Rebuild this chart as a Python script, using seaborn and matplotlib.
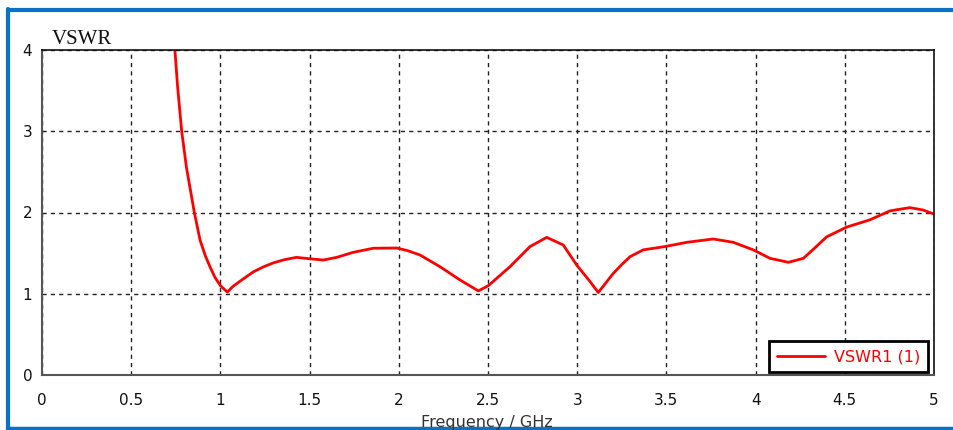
import matplotlib
matplotlib.use("Agg")
import matplotlib.pyplot as plt
from matplotlib.lines import Line2D
import pandas as pd
import seaborn as sns

# --- Data (frequency in GHz, VSWR) ---
FREQ_GHZ = [0.745, 0.76, 0.783, 0.81, 0.854, 0.886, 0.915, 0.942, 0.97, 1.0, 1.039,
            1.07, 1.12, 1.185, 1.24, 1.297, 1.36, 1.427, 1.502, 1.577, 1.652,
            1.745, 1.857, 1.988, 2.05, 2.119, 2.231, 2.343, 2.446, 2.502, 2.623,
            2.735, 2.829, 2.922, 2.997, 3.072, 3.118, 3.202, 3.25, 3.296, 3.37,
            3.49, 3.614, 3.763, 3.875, 3.987, 4.081, 4.184, 4.268, 4.33, 4.398,
            4.51, 4.641, 4.753, 4.865, 4.94, 5.0]
VSWR = [4.0, 3.55, 3.0, 2.55, 2.0, 1.66, 1.47, 1.33, 1.2, 1.1, 1.02,
        1.09, 1.17, 1.27, 1.33, 1.38, 1.42, 1.448, 1.43, 1.415, 1.448,
        1.51, 1.56, 1.563, 1.53, 1.477, 1.333, 1.17, 1.035, 1.10, 1.333,
        1.58, 1.694, 1.60, 1.354, 1.15, 1.015, 1.25, 1.36, 1.456, 1.54,
        1.58, 1.633, 1.674, 1.633, 1.54, 1.436, 1.387, 1.436, 1.56, 1.70,
        1.82, 1.91, 2.02, 2.06, 2.03, 1.98]
X_TICKS = [0, 0.5, 1, 1.5, 2, 2.5, 3, 3.5, 4, 4.5, 5]
X_TICK_LABELS = ["0", "0.5", "1", "1.5", "2", "2.5", "3", "3.5", "4", "4.5", "5"]
Y_TICKS = [0, 1, 2, 3, 4]
SERIES_NAME = "VSWR1 (1)"

LINE_RED = "#ff0000"
BORDER_BLUE = "#0a72c6"

sns.set_style("white")
plt.rcParams["font.family"] = ["DejaVu Sans"]

df = pd.DataFrame({"freq": FREQ_GHZ, "vswr": VSWR})

fig = plt.figure(figsize=(9.54, 4.30), dpi=100)
ax = fig.add_axes([42 / 954, 55 / 430, 892 / 954, 325 / 430])

sns.lineplot(data=df, x="freq", y="vswr", color=LINE_RED, linewidth=2,
             label=SERIES_NAME, ax=ax)

ax.set_xlim(0, 5)
ax.set_ylim(0, 4)
ax.set_xticks(X_TICKS)
ax.set_xticklabels(X_TICK_LABELS)
ax.set_yticks(Y_TICKS)
ax.set_xlabel("")
ax.set_ylabel("")
ax.tick_params(axis="both", direction="inout", length=6, width=1,
               color="#333333", labelsize=11, labelcolor="#111111")
ax.tick_params(axis="x", pad=10)
ax.tick_params(axis="y", pad=4)

# dashed black grid
ax.grid(True, color="#222222", linestyle=(0, (3, 3)), linewidth=1)
ax.set_axisbelow(True)

for side in ["left", "bottom"]:
    ax.spines[side].set_color("#555555")
    ax.spines[side].set_linewidth(1.5)
for side in ["top", "right"]:
    ax.spines[side].set_color("#111111")
    ax.spines[side].set_linewidth(1.2)
    ax.spines[side].set_visible(True)

leg = ax.legend(loc="lower right", bbox_to_anchor=(0.9935, 0.008), frameon=True,
                fancybox=False, fontsize=11.5, handlelength=3.0,
                borderpad=0.5, handletextpad=0.55, borderaxespad=0.0)
leg.get_frame().set_edgecolor("black")
leg.get_frame().set_linewidth(2)
leg.get_frame().set_facecolor("white")
leg.get_frame().set_alpha(1)
for txt in leg.get_texts():
    txt.set_color(LINE_RED)

# axis titles placed like the source software
fig.text(52 / 954, 1 - 44 / 430, "VSWR", family=["Liberation Serif"],
         fontsize=15, ha="left", va="baseline", color="#111111")
fig.text(487 / 954, 1 - 415 / 430, "Frequency / GHz", fontsize=11.5,
         ha="center", va="top", color="#333333")

# blue window border
fig.add_artist(Line2D([8 / 954, 8 / 954], [0.0, 1 - 9 / 430],
                      transform=fig.transFigure, color=BORDER_BLUE, linewidth=3))
fig.add_artist(Line2D([8 / 954, 1.0], [1 - 10 / 430, 1 - 10 / 430],
                      transform=fig.transFigure, color=BORDER_BLUE, linewidth=3))
fig.add_artist(Line2D([8 / 954, 1.0], [1 - 428 / 430, 1 - 428 / 430],
                      transform=fig.transFigure, color=BORDER_BLUE, linewidth=2.5))

fig.savefig("out.png", dpi=100)
